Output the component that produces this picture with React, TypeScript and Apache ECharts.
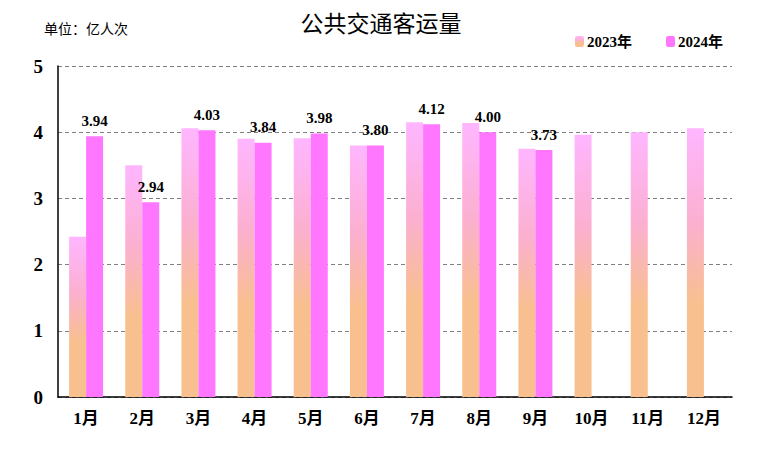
import React, { useEffect, useRef } from "react";
import * as echarts from "echarts";

const categories = ["1月", "2月", "3月", "4月", "5月", "6月", "7月", "8月", "9月", "10月", "11月", "12月"];
const values2023 = [2.42, 3.5, 4.06, 3.9, 3.91, 3.8, 4.15, 4.14, 3.75, 3.96, 4.0, 4.06];
const values2024 = [3.94, 2.94, 4.03, 3.84, 3.98, 3.8, 4.12, 4.0, 3.73];
const yTicks = [0, 1, 2, 3, 4, 5];

const SERIF = "'Liberation Serif', 'Times New Roman', 'Noto Sans CJK SC', serif";

export default function App() {
  const ref = useRef<HTMLDivElement>(null);
  useEffect(() => {
    if (!ref.current) return;
    const chart = echarts.init(ref.current, null, { renderer: "svg" });
    const grad2023 = new echarts.graphic.LinearGradient(0, 0, 0, 1, [
      { offset: 0, color: "#FFB6FF" },
      { offset: 0.35, color: "#FBB0D0" },
      { offset: 0.65, color: "#F8C08F" },
      { offset: 1, color: "#F8C08F" },
    ]);
    chart.setOption({
      animation: false,
      backgroundColor: "#ffffff",
      title: {
        text: "公共交通客运量",
        left: "center",
        top: 5,
        textStyle: { fontFamily: "'Noto Sans CJK SC', serif", fontSize: 23, fontWeight: "normal", color: "#000" },
      },
      graphic: [
        {
          type: "text",
          left: 44,
          top: 21,
          style: { text: "单位：亿人次", fontFamily: "'Noto Sans CJK SC', serif", fontSize: 14, fill: "#000" },
        },
      ],
      legend: {
        left: 570,
        top: 29,
        itemWidth: 9,
        itemHeight: 11,
        itemGap: 34,
        textStyle: { fontFamily: SERIF, fontSize: 15, fontWeight: "bold", color: "#000", padding: [0, 0, 0, -2] },
        data: ["2023年", "2024年"],
      },
      grid: { left: 58, right: 30, top: 66, bottom: 55, containLabel: false },
      xAxis: {
        type: "category",
        data: categories,
        axisLine: { lineStyle: { color: "#000", width: 1.5 } },
        axisTick: { inside: true, length: 7, lineStyle: { color: "#000", width: 1.5 } },
        axisLabel: { margin: 13, fontFamily: SERIF, fontSize: 17, fontWeight: "bold", color: "#000" },
      },
      yAxis: {
        type: "value",
        min: yTicks[0],
        max: yTicks[yTicks.length - 1],
        interval: 1,
        axisLine: { show: true, lineStyle: { color: "#000", width: 1.5 } },
        axisTick: { show: false },
        axisLabel: { margin: 15, fontFamily: SERIF, fontSize: 19, fontWeight: "bold", color: "#000" },
        splitLine: { lineStyle: { color: "#808080", type: [4, 3], width: 1 } },
      },
      series: [
        {
          name: "2023年",
          type: "bar",
          data: values2023,
          barWidth: 17,
          barGap: "0%",
          itemStyle: { color: grad2023 },
        },
        {
          name: "2024年",
          type: "bar",
          data: values2024,
          barWidth: 17,
          barGap: "0%",
          itemStyle: { color: "#FF77FF" },
          label: {
            show: true,
            position: "top",
            distance: 8,
            formatter: (p: any) => Number(p.value).toFixed(2),
            fontFamily: SERIF,
            fontSize: 15,
            fontWeight: "bold",
            color: "#000",
          },
        },
      ],
    });
    return () => chart.dispose();
  }, []);
  return <div ref={ref} style={{ width: 762, height: 452, position: "absolute", left: 0, top: 0 }} />;
}
